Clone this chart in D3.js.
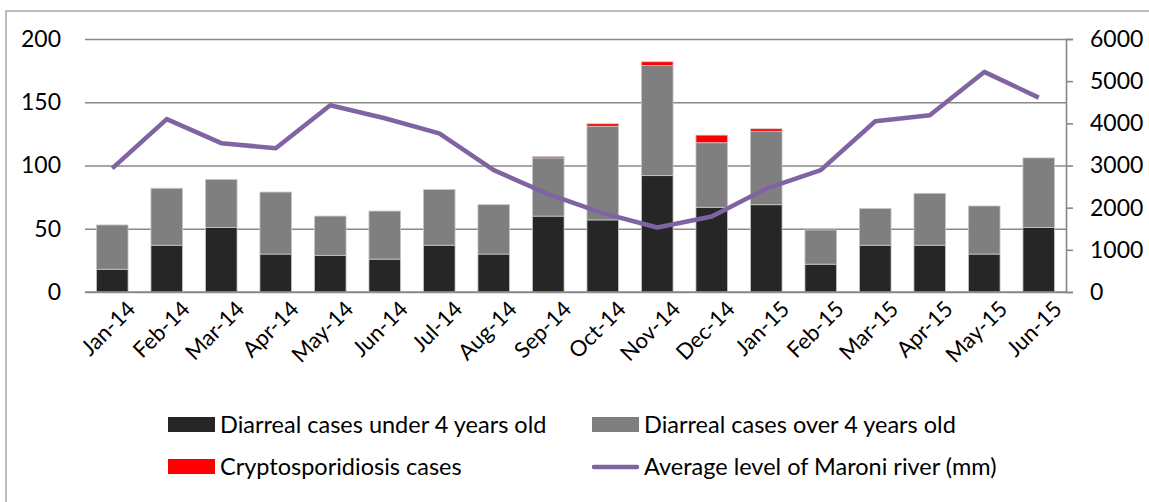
<!DOCTYPE html>
<html>
<head>
<meta charset="utf-8">
<script src="https://cdn.jsdelivr.net/npm/d3@7"></script>
<style>
  body { margin: 0; background: #fff; }
  text { font-family: Lato, "Open Sans", sans-serif; fill: #000; }
</style>
</head>
<body>
<div id="chart"></div>
<script>
'use strict';

// data
const months = ["Jan-14", "Feb-14", "Mar-14", "Apr-14", "May-14", "Jun-14", "Jul-14", "Aug-14", "Sep-14",
    "Oct-14", "Nov-14", "Dec-14", "Jan-15", "Feb-15", "Mar-15", "Apr-15", "May-15", "Jun-15"];
const under4 = [18, 37, 51, 30, 29, 26, 37, 30, 60, 57, 92, 67, 69, 22, 37, 37, 30, 51];
const over4 = [35, 45, 38, 49, 31, 38, 44, 39, 46, 74, 87, 51, 58, 27, 29, 41, 38, 55];
const crypto = [0, 0, 0, 0, 0, 0, 0, 0, 1, 2, 3, 6, 2, 0, 0, 0, 0, 0];
const riverLevel = [2930, 4100, 3530, 3410, 4430, 4120, 3760, 2890, 2320, 1870, 1530, 1790, 2450, 2890, 4050, 4190, 5220, 4610];
const leftTicks = [0, 50, 100, 150, 200];
const rightTicks = [0, 1000, 2000, 3000, 4000, 5000, 6000];

const seriesNames = ["Diarreal cases under 4 years old", "Diarreal cases over 4 years old",
    "Cryptosporidiosis cases", "Average level of Maroni river (mm)"];
const colors = ["#262626", "#7f7f7f", "#ff0000", "#8064a2"];

(function () {
    const W = 1149, H = 502;
    const svg = d3.select("#chart").append("svg")
        .attr("width", W).attr("height", H);

    // chart border
    svg.append("rect")
        .attr("x", 6).attr("y", 11)
        .attr("width", W + 10).attr("height", H + 10)
        .attr("fill", "none").attr("stroke", "#a6a6a6").attr("stroke-width", 1.5);

    const x = d3.scaleBand().domain(months).range([85, 1066]).paddingInner(0.42).paddingOuter(0.21);
    const y = d3.scaleLinear().domain([0, 200]).range([292, 39]);
    const y2 = d3.scaleLinear().domain([0, 6000]).range([292, 39]);

    // gridlines + left labels
    const leftAxis = svg.append("g")
        .attr("transform", "translate(85,0)")
        .call(d3.axisLeft(y).tickValues(leftTicks).tickSize(-981).tickPadding(24));
    leftAxis.select(".domain").remove();
    leftAxis.selectAll("line").attr("stroke", "#888").attr("stroke-width", 1.6);
    leftAxis.selectAll("text").attr("font-size", 23).style("font-family", "Lato");

    // stacked bars
    const stacked = months.map((m, i) => ({ m: m, vals: [under4[i], over4[i], crypto[i]] }));
    const barG = svg.append("g");
    stacked.forEach((d) => {
        let base = 0;
        d.vals.forEach((v, k) => {
            if (v <= 0) return;
            barG.append("rect")
                .attr("x", x(d.m))
                .attr("width", x.bandwidth())
                .attr("y", y(base + v))
                .attr("height", y(base) - y(base + v))
                .attr("fill", colors[k])
                .attr("stroke", "#c8c8c8")
                .attr("stroke-width", 0.8);
            base += v;
        });
    });

    // bottom axis line
    svg.append("line")
        .attr("x1", 85).attr("x2", 1066)
        .attr("y1", y(0)).attr("y2", y(0))
        .attr("stroke", "#888").attr("stroke-width", 1.6);

    // right axis
    const rightAxis = svg.append("g")
        .attr("transform", "translate(1066,0)")
        .call(d3.axisRight(y2).tickValues(rightTicks).tickFormat(d3.format("d")).tickSize(7).tickPadding(17));
    rightAxis.select(".domain").attr("stroke", "#888").attr("stroke-width", 1.6);
    rightAxis.selectAll("line").attr("stroke", "#888").attr("stroke-width", 1.6);
    rightAxis.selectAll("text").attr("font-size", 23).style("font-family", "Lato");

    // river level line
    const line = d3.line()
        .x((d, i) => x(months[i]) + x.bandwidth() / 2)
        .y((d) => y2(d));
    svg.append("path")
        .datum(riverLevel)
        .attr("d", line)
        .attr("fill", "none")
        .attr("stroke", colors[3])
        .attr("stroke-width", 4.5)
        .attr("stroke-linejoin", "round");

    // month labels
    svg.append("g").selectAll("text")
        .data(months)
        .enter()
        .append("text")
            .attr("transform", (d) => "translate(" + (x(d) + x.bandwidth() / 2 + 19) + ",305) rotate(-45)")
            .attr("text-anchor", "end")
            .attr("dy", "0.35em")
            .attr("font-size", 22)
            .text((d) => d);

    // legend
    const legendPos = [[168, 425], [592, 425], [168, 467], [592, 467]];
    const legend = svg.append("g");
    seriesNames.forEach((name, k) => {
        const p = legendPos[k];
        if (k < 3) {
            legend.append("rect")
                .attr("x", p[0]).attr("y", p[1] - 8)
                .attr("width", 47).attr("height", 15)
                .attr("fill", colors[k]);
        } else {
            legend.append("line")
                .attr("x1", p[0] + 2).attr("x2", p[0] + 45)
                .attr("y1", p[1]).attr("y2", p[1])
                .attr("stroke", colors[k]).attr("stroke-width", 4.5)
                .attr("stroke-linecap", "round");
        }
        legend.append("text")
            .attr("x", p[0] + 52).attr("y", p[1])
            .attr("dy", "0.35em")
            .attr("font-size", 23.5)
            .text(name);
    });
})();
</script>
</body>
</html>
